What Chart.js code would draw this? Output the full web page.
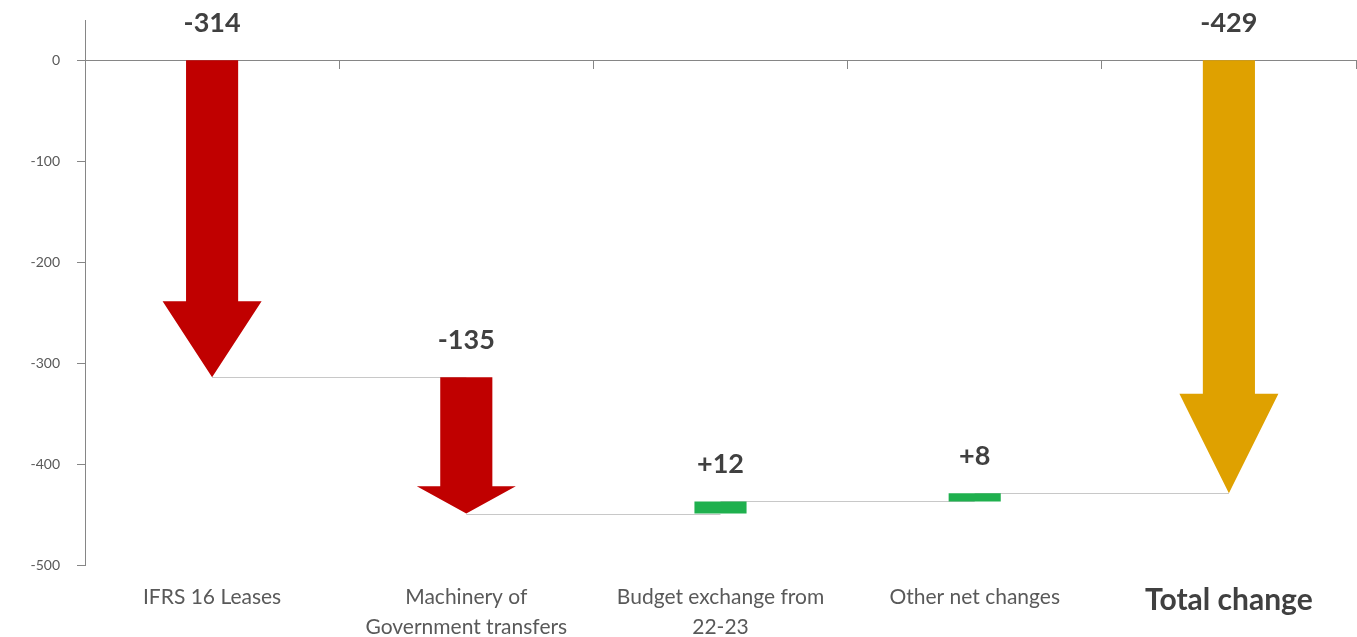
<!DOCTYPE html>
<html>
<head>
<meta charset="utf-8">
<script src="https://cdn.jsdelivr.net/npm/chart.js@4/dist/chart.umd.min.js"></script>
<style>
    html, body { margin: 0; padding: 0; background: #fff; }
    #wrap { width: 1357px; height: 637px; }
</style>
</head>
<body>
<div id="wrap"><canvas id="waterfall"></canvas></div>
<script>
// Данные графика
const categories = ['IFRS 16 Leases', ['Machinery of', 'Government transfers'], ['Budget exchange from', '22-23'], 'Other net changes', 'Total change'];
const changes = [-314, -135, 12, 8, -429];
const isTotal = [false, false, false, false, true];
const valueLabels = ['-314', '-135', '+12', '+8', '-429'];
const yTicks = [-500, -400, -300, -200, -100, 0];

// Стиль стрелок
const RED = '#c00000';
const GOLD = '#dfa100';
const GREEN = '#1fb04e';
const headShare = [0.24, 0.2, 0, 0, 0.23];

// Плавающие столбцы [начало, конец]
let running = 0;
const ranges = changes.map((c, i) => {
    if (isTotal[i]) return [0, c];
    const r = [running, running + c];
    running += c;
    return r;
});

function barColor(i) {
    if (isTotal[i]) return GOLD;
    return changes[i] < 0 ? RED : GREEN;
}

const arrowPlugin = {
    id: 'arrows',
    beforeDatasetsDraw(chart) {
        // соединительные линии
        const { ctx } = chart;
        const xs = chart.scales.x, ys = chart.scales.y;
        ctx.save();
        ctx.strokeStyle = '#c8c8c8';
        ctx.lineWidth = 1;
        for (let i = 0; i < ranges.length - 1; i++) {
            const py = Math.round(ys.getPixelForValue(ranges[i][1])) + 0.5;
            ctx.beginPath();
            ctx.moveTo(xs.getPixelForValue(i), py);
            ctx.lineTo(xs.getPixelForValue(i + 1), py);
            ctx.stroke();
        }
        ctx.restore();
    },
    afterDatasetsDraw(chart) {
        const { ctx } = chart;
        const ys = chart.scales.y;
        const meta = chart.getDatasetMeta(0);
        meta.data.forEach((bar, i) => {
            const [from, to] = ranges[i];
            const y0 = ys.getPixelForValue(from);
            const y1 = ys.getPixelForValue(to);
            const cx = bar.x;
            const half = bar.width / 2;
            if (to < from) {
                const headHalf = bar.width * 0.95;
                const headTop = y1 - (y1 - y0) * headShare[i];
                ctx.save();
                ctx.fillStyle = barColor(i);
                ctx.beginPath();
                ctx.moveTo(cx - half, y0);
                ctx.lineTo(cx + half, y0);
                ctx.lineTo(cx + half, headTop);
                ctx.lineTo(cx + headHalf, headTop);
                ctx.lineTo(cx, y1);
                ctx.lineTo(cx - headHalf, headTop);
                ctx.lineTo(cx - half, headTop);
                ctx.closePath();
                ctx.fill();
                ctx.restore();
            }
            // подпись значения
            const top = Math.min(y0, y1);
            ctx.save();
            ctx.fillStyle = '#404040';
            ctx.font = 'bold 27px Lato';
            ctx.textAlign = 'center';
            ctx.textBaseline = 'middle';
            ctx.fillText(valueLabels[i], cx, top - 37);
            ctx.restore();
        });
    }
};

const ctx = document.getElementById('waterfall').getContext('2d');
const chart = new Chart(ctx, {
    type: 'bar',
    data: {
        labels: categories,
        datasets: [{
            data: ranges,
            backgroundColor: ranges.map((r, i) => r[1] > r[0] ? GREEN : 'rgba(0,0,0,0)'),
            borderWidth: 0,
            categoryPercentage: 1,
            barPercentage: 0.205
        }]
    },
    options: {
        responsive: true,
        maintainAspectRatio: false,
        animation: false,
        layout: { padding: { top: 20, right: 1 } },
        plugins: {
            legend: { display: false },
            tooltip: { enabled: false }
        },
        scales: {
            x: {
                offset: true,
                grid: { display: false, drawTicks: false },
                border: { display: false },
                ticks: {
                    autoSkip: false,
                    maxRotation: 0,
                    padding: 17,
                    color: (c) => c.index === 4 ? '#404040' : '#595959',
                    font: (c) => c.index === 4
                        ? { family: 'Lato', size: 30, weight: 'bold' }
                        : { family: 'Lato', size: 21, lineHeight: 1.43 }
                },
                afterFit: (s) => { s.height = 72; }
            },
            x2: {
                type: 'category',
                axis: 'x',
                position: { y: 0 },
                offset: true,
                grid: { offset: true, drawOnChartArea: false, tickLength: 8, color: '#868686' },
                border: { color: '#868686' },
                ticks: { display: false }
            },
            y: {
                min: -500,
                max: 40,
                afterBuildTicks: (s) => { s.ticks = yTicks.map(v => ({ value: v })); },
                grid: { drawOnChartArea: false, tickLength: 8, color: '#868686' },
                border: { color: '#868686' },
                ticks: { padding: 17, color: '#595959', font: { family: 'Lato', size: 14 } },
                afterFit: (s) => { s.width = 85; s.paddingTop = 0; }
            }
        }
    },
    plugins: [arrowPlugin]
});
</script>
</body>
</html>
